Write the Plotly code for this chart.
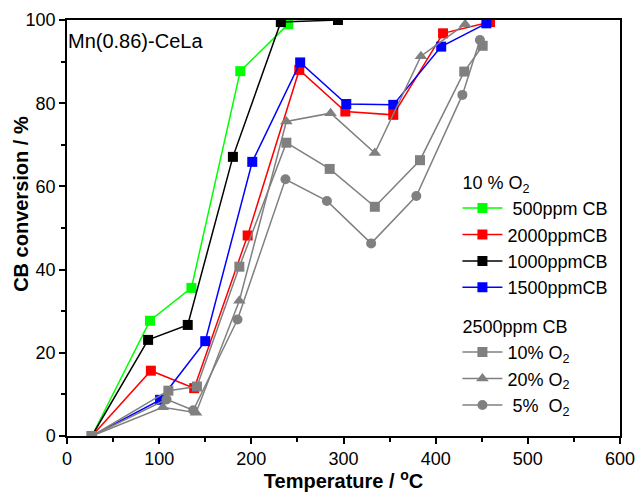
import plotly.graph_objects as go

# ---- data ----
t_500 = [27, 90, 135, 188, 240]
c_500 = [0, 27.7, 35.6, 87.7, 99.0]

t_2000 = [27, 91, 138, 196, 252, 302, 354, 408, 459]
c_2000 = [0, 15.7, 11.5, 48.2, 88.0, 78.0, 77.2, 96.8, 99.5]

t_1000 = [27, 88, 131, 180, 232, 294]
c_1000 = [0, 23.1, 26.7, 67.1, 99.5, 100]

t_1500 = [27, 101, 150, 201, 253, 303, 354, 406, 455]
c_1500 = [0, 8.7, 22.8, 65.9, 89.8, 79.8, 79.6, 93.6, 99.2]

t_o10 = [27, 110, 141, 187, 238, 285, 334, 383, 431, 451]
c_o10 = [0, 10.9, 11.9, 40.7, 70.5, 64.2, 55.1, 66.3, 87.6, 93.8]

t_o20 = [27, 104, 140, 187, 238, 286, 334, 384, 432]
c_o20 = [0, 6.9, 5.6, 32.5, 75.6, 77.6, 68.0, 91.3, 99.0]

t_o5 = [27, 108, 137, 185, 237, 282, 330, 379, 429, 448]
c_o5 = [0, 8.8, 6.2, 28.0, 61.7, 56.5, 46.3, 57.7, 82.0, 95.2]

NB = "\u00a0"
series = [
    (t_500, c_500, NB + "500ppm CB", "#00ff00", "square", "g1", "10 % O<sub>2</sub>"),
    (t_2000, c_2000, "2000ppmCB", "#ff0000", "square", "g1", "10 % O<sub>2</sub>"),
    (t_1000, c_1000, "1000ppmCB", "#000000", "square", "g1", "10 % O<sub>2</sub>"),
    (t_1500, c_1500, "1500ppmCB", "#0000ff", "square", "g1", "10 % O<sub>2</sub>"),
    (t_o10, c_o10, "10% O<sub>2</sub>", "#808080", "square", "g2", "2500ppm CB"),
    (t_o20, c_o20, "20% O<sub>2</sub>", "#808080", "triangle-up", "g2", "2500ppm CB"),
    (t_o5, c_o5, NB + "5%" + NB + NB + "O<sub>2</sub>", "#808080", "circle", "g2", "2500ppm CB"),
]

fig = go.Figure()
for i, (x, y, name, col, sym, grp, gtitle) in enumerate(series):
    size = 10 if sym == "square" else (11 if sym == "triangle-up" else 10)
    fig.add_trace(go.Scatter(
        x=x, y=y, name=name, mode="lines+markers",
        line=dict(color=col, width=1.5),
        marker=dict(symbol=sym, size=size, color=col, line=dict(width=0)),
        legendgroup=grp,
        legendgrouptitle=dict(text=gtitle, font=dict(size=18, color="black")),
        legendrank=i + 1,
    ))

fig.add_annotation(text="Mn(0.86)-CeLa", x=0, y=1, xref="paper", yref="paper",
                   xanchor="left", yanchor="top", xshift=-1, yshift=-8, showarrow=False,
                   font=dict(size=20, color="black"))

# y-axis title (placed as in the reference, slightly above the axis middle)
fig.add_annotation(text="<b>CB conversion / %</b>", x=0, y=0.558, xref="paper", yref="paper",
                   xanchor="center", yanchor="middle", xshift=-46, textangle=-90,
                   showarrow=False, font=dict(size=20, color="black"))

font_family = "Liberation Sans, Arial, sans-serif"
fig.update_layout(
    width=644, height=492,
    margin=dict(l=67, r=24, t=20, b=56),
    paper_bgcolor="white", plot_bgcolor="white",
    font=dict(family=font_family, color="black", size=18),
    showlegend=True,
    legend=dict(x=0.706, y=0.655, xanchor="left", yanchor="top",
                bgcolor="rgba(0,0,0,0)", borderwidth=0,
                font=dict(size=18, color="black"),
                traceorder="grouped", tracegroupgap=12, itemwidth=40),
    xaxis=dict(range=[0, 600], tick0=0, dtick=100, showgrid=False, zeroline=False,
               showline=True, linecolor="black", linewidth=1.5, mirror=True,
               ticks="outside", ticklen=6, tickwidth=1.5, tickcolor="black",
               minor=dict(dtick=50, ticks="outside", ticklen=4, tickwidth=1.5, tickcolor="black"),
               tickfont=dict(size=18), automargin=False,
               title=dict(text="<b>Temperature / <sup>o</sup>C</b>", font=dict(size=20), standoff=2)),
    yaxis=dict(range=[0, 100], tick0=0, dtick=20, showgrid=False, zeroline=False,
               showline=True, linecolor="black", linewidth=1.5, mirror=True,
               ticks="outside", ticklen=6, tickwidth=1.5, tickcolor="black",
               minor=dict(dtick=10, ticks="outside", ticklen=4, tickwidth=1.5, tickcolor="black"),
               tickfont=dict(size=18), automargin=False),
)

fig.write_html("out.html")
